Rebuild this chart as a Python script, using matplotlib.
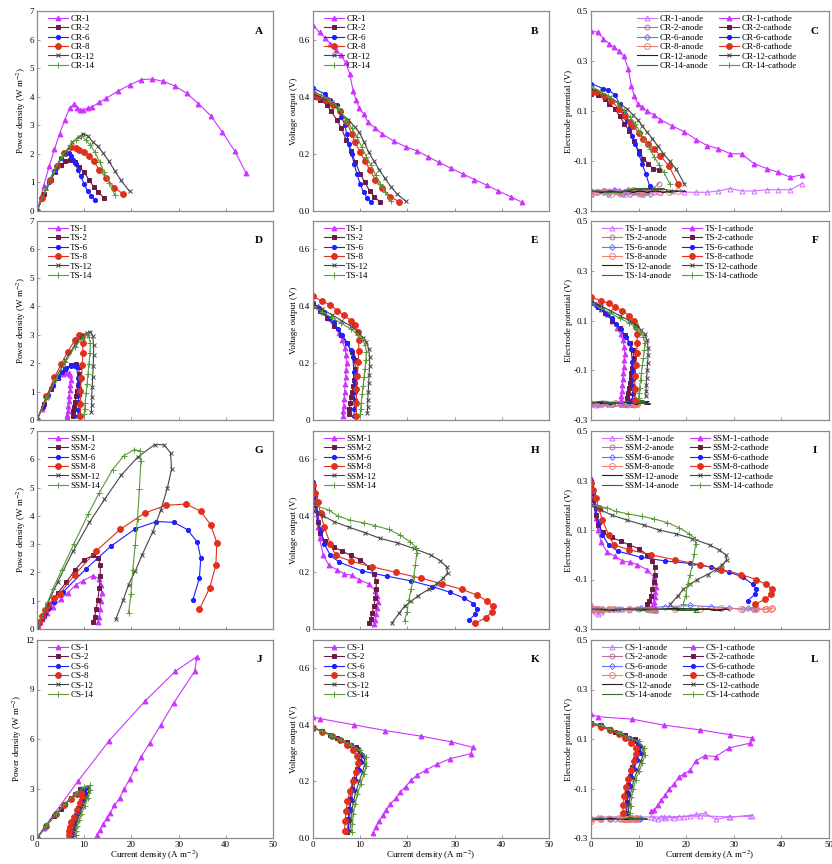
import matplotlib.pyplot as plt

plt.rcParams['font.family'] = ['Liberation Serif', 'DejaVu Serif']
plt.rcParams['mathtext.fontset'] = 'stix'

# ---- CR series: current (A m-2), power (W m-2), voltage (V), cathode / anode potential (V)
cr1_i = [0, 1.4, 2.6, 3.7, 4.8, 5.9, 6.9, 7.8, 8.5, 9.1, 9.8, 10.7, 11.7, 13.2, 14.6, 17.1, 19.6, 22.1, 24.4, 26.7, 29.2, 31.7, 34.2, 36.9, 39.3, 41.9, 44.3]
cr1_p = [0, 0.88, 1.57, 2.16, 2.71, 3.2, 3.6, 3.74, 3.62, 3.55, 3.53, 3.6, 3.65, 3.8, 3.94, 4.19, 4.41, 4.6, 4.62, 4.54, 4.38, 4.12, 3.76, 3.32, 2.75, 2.1, 1.33]
cr1_v = [0.65, 0.625, 0.605, 0.585, 0.565, 0.545, 0.52, 0.48, 0.42, 0.39, 0.36, 0.34, 0.31, 0.29, 0.27, 0.245, 0.225, 0.21, 0.19, 0.17, 0.15, 0.13, 0.11, 0.09, 0.07, 0.05, 0.03]
cr1_c = [0.42, 0.415, 0.39, 0.37, 0.356, 0.34, 0.32, 0.27, 0.2, 0.16, 0.13, 0.115, 0.1, 0.085, 0.065, 0.04, 0.017, -0.014, -0.038, -0.05, -0.07, -0.072, -0.11, -0.13, -0.145, -0.165, -0.155]
cr1_a = [-0.23, -0.22, -0.215, -0.225, -0.21, -0.215, -0.22, -0.21, -0.22, -0.225, -0.22, -0.225, -0.22, -0.225, -0.225, -0.22, -0.225, -0.225, -0.225, -0.22, -0.21, -0.22, -0.22, -0.215, -0.215, -0.215, -0.19]

cr2_i = [0, 1.5, 3, 3.8, 5, 6, 7, 8, 9, 10, 11, 12, 13, 14.3]
cr2_p = [0, 0.6, 1.1, 1.35, 1.6, 1.75, 1.8, 1.7, 1.55, 1.35, 1.1, 0.85, 0.65, 0.45]
cr2_v = [0.4, 0.39, 0.37, 0.35, 0.32, 0.29, 0.25, 0.21, 0.17, 0.13, 0.1, 0.07, 0.05, 0.03]
cr2_c = [0.17, 0.165, 0.15, 0.13, 0.11, 0.08, 0.05, 0.02, -0.02, -0.06, -0.09, -0.11, -0.13, -0.135]
cr2_a = [-0.23, -0.225, -0.22, -0.22, -0.225, -0.23, -0.225, -0.22, -0.225, -0.23, -0.225, -0.22, -0.21, -0.19]

cr6_i = [0, 2.5, 3.6, 5, 6, 6.8, 7.1, 7.6, 8.2, 8.7, 9.3, 10, 10.7, 11.5, 12.3]
cr6_p = [0, 1.03, 1.4, 1.85, 1.98, 2.04, 1.92, 1.79, 1.64, 1.44, 1.21, 0.94, 0.7, 0.54, 0.37]
cr6_v = [0.43, 0.41, 0.39, 0.37, 0.33, 0.3, 0.27, 0.235, 0.2, 0.165, 0.13, 0.094, 0.065, 0.047, 0.03]
cr6_c = [0.21, 0.19, 0.185, 0.165, 0.13, 0.1, 0.09, 0.06, 0.035, 0.0, -0.03, -0.07, -0.11, -0.15, -0.2]
cr6_a = [-0.22, -0.225, -0.23, -0.22, -0.225, -0.23, -0.225, -0.22, -0.23, -0.225, -0.22, -0.225, -0.23, -0.225, -0.23]

cr8_i = [0, 1.1, 2.8, 4.3, 5.8, 7.2, 8.2, 8.9, 10, 11, 12, 13.2, 14.6, 16.4, 18.2]
cr8_p = [0, 0.44, 1.08, 1.59, 2.03, 2.23, 2.21, 2.14, 2.05, 1.93, 1.74, 1.45, 1.17, 0.82, 0.6]
cr8_v = [0.41, 0.4, 0.387, 0.37, 0.35, 0.31, 0.27, 0.24, 0.205, 0.175, 0.145, 0.11, 0.08, 0.05, 0.033]
cr8_c = [0.18, 0.175, 0.16, 0.14, 0.11, 0.08, 0.055, 0.04, 0.013, -0.01, -0.03, -0.05, -0.08, -0.12, -0.19]
cr8_a = [-0.23, -0.225, -0.22, -0.23, -0.225, -0.23, -0.22, -0.215, -0.225, -0.23, -0.225, -0.22, -0.225, -0.225, -0.22]

cr12_i = [0, 2, 4, 6, 7.5, 8.8, 9.8, 10.8, 11.8, 12.9, 14, 15.2, 16.5, 17.8, 19.6]
cr12_p = [0, 0.79, 1.52, 2.04, 2.4, 2.6, 2.7, 2.62, 2.42, 2.26, 2.03, 1.75, 1.4, 1.07, 0.69]
cr12_v = [0.41, 0.395, 0.38, 0.34, 0.32, 0.295, 0.275, 0.243, 0.205, 0.175, 0.145, 0.115, 0.085, 0.06, 0.035]
cr12_c = [0.19, 0.175, 0.155, 0.13, 0.11, 0.085, 0.065, 0.04, 0.015, -0.01, -0.04, -0.07, -0.1, -0.13, -0.19]
cr12_a = [-0.22, -0.225, -0.22, -0.225, -0.22, -0.225, -0.22, -0.22, -0.225, -0.22, -0.22, -0.225, -0.22, -0.22, -0.22]

cr14_i = [0, 1.8, 3.6, 5.4, 7, 8.2, 9.3, 10.3, 11.3, 12.3, 13.3, 14.3, 15.3, 16.5]
cr14_p = [0, 0.73, 1.39, 1.94, 2.3, 2.5, 2.63, 2.5, 2.3, 2.05, 1.7, 1.35, 0.98, 0.56]
cr14_v = [0.42, 0.405, 0.385, 0.36, 0.32, 0.29, 0.26, 0.225, 0.19, 0.16, 0.125, 0.095, 0.065, 0.035]
cr14_c = [0.2, 0.18, 0.16, 0.135, 0.1, 0.075, 0.05, 0.015, -0.02, -0.05, -0.085, -0.115, -0.145, -0.19]
cr14_a = [-0.22, -0.22, -0.225, -0.225, -0.22, -0.215, -0.21, -0.21, -0.21, -0.21, -0.21, -0.21, -0.21, -0.225]

# ---- TS series
ts1_i = [0, 1, 2.2, 3.4, 4.5, 5.5, 6.2, 6.7, 7.0, 7.1, 7.0, 6.9, 6.8, 6.7, 6.6, 6.5, 6.4, 6.3]
ts1_p = [0, 0.4, 0.84, 1.22, 1.5, 1.62, 1.66, 1.64, 1.58, 1.42, 1.23, 1.04, 0.85, 0.67, 0.5, 0.33, 0.19, 0.1]
ts1_v = [0.41, 0.4, 0.38, 0.36, 0.335, 0.305, 0.28, 0.255, 0.23, 0.2, 0.175, 0.15, 0.125, 0.1, 0.075, 0.05, 0.03, 0.015]
ts1_c = [0.175, 0.165, 0.145, 0.125, 0.1, 0.07, 0.045, 0.02, -0.005, -0.035, -0.06, -0.085, -0.11, -0.135, -0.16, -0.185, -0.205, -0.22]
ts1_a = [-0.235, -0.24, -0.235, -0.23, -0.235, -0.23, -0.235, -0.235, -0.235, -0.235, -0.235, -0.235, -0.235, -0.235, -0.235, -0.235, -0.235, -0.235]

ts2_i = [0, 1.5, 3, 4.5, 6, 7.2, 8.2, 8.8, 9.0, 8.9, 8.7, 8.5, 8.3, 8.1, 7.9, 7.7, 7.6]
ts2_p = [0, 0.58, 1.08, 1.49, 1.8, 1.94, 1.97, 1.85, 1.62, 1.42, 1.22, 1.02, 0.83, 0.65, 0.47, 0.31, 0.15]
ts2_v = [0.4, 0.385, 0.36, 0.33, 0.3, 0.27, 0.24, 0.21, 0.18, 0.16, 0.14, 0.12, 0.1, 0.08, 0.06, 0.04, 0.02]
ts2_c = [0.17, 0.155, 0.13, 0.1, 0.07, 0.04, 0.01, -0.02, -0.05, -0.07, -0.09, -0.11, -0.13, -0.15, -0.17, -0.19, -0.21]
ts2_a = [-0.23, -0.235, -0.23, -0.235, -0.23, -0.235, -0.23, -0.235, -0.24, -0.235, -0.23, -0.235, -0.23, -0.235, -0.23, -0.235, -0.24]

ts6_i = [0, 1.2, 2.3, 3.4, 4.4, 5.3, 6.2, 7.3, 8.0, 8.4, 8.7, 8.8, 8.85, 8.8, 8.75, 8.7]
ts6_p = [0, 0.47, 0.87, 1.22, 1.51, 1.7, 1.84, 1.9, 1.9, 1.85, 1.48, 1.14, 0.89, 0.62, 0.35, 0.13]
ts6_v = [0.41, 0.395, 0.38, 0.36, 0.344, 0.32, 0.3, 0.27, 0.245, 0.22, 0.17, 0.13, 0.1, 0.07, 0.04, 0.015]
ts6_c = [0.175, 0.16, 0.145, 0.125, 0.11, 0.085, 0.065, 0.035, 0.01, -0.015, -0.065, -0.105, -0.135, -0.165, -0.195, -0.22]
ts6_a = [-0.235, -0.235, -0.23, -0.235, -0.235, -0.23, -0.235, -0.235, -0.23, -0.235, -0.235, -0.23, -0.235, -0.235, -0.23, -0.235]

ts8_i = [0, 2, 3.7, 5.1, 6.5, 8, 9, 9.5, 9.7, 9.7, 9.6, 9.4, 9.2, 9.2, 9.2]
ts8_p = [0, 0.83, 1.5, 1.96, 2.4, 2.8, 3.0, 2.95, 2.72, 2.37, 1.95, 1.47, 1.01, 0.55, 0.13]
ts8_v = [0.435, 0.417, 0.405, 0.385, 0.37, 0.35, 0.333, 0.31, 0.28, 0.244, 0.203, 0.156, 0.11, 0.06, 0.014]
ts8_c = [0.195, 0.18, 0.17, 0.155, 0.14, 0.12, 0.1, 0.075, 0.045, 0.01, -0.03, -0.08, -0.125, -0.175, -0.22]
ts8_a = [-0.235, -0.235, -0.235, -0.23, -0.235, -0.23, -0.235, -0.235, -0.235, -0.235, -0.23, -0.235, -0.235, -0.235, -0.235]

ts12_i = [0, 2, 4, 6, 8, 9.5, 10.6, 11.3, 11.8, 12, 12, 11.9, 11.8, 11.7, 11.6, 11.6, 11.5]
ts12_p = [0, 0.78, 1.48, 2.1, 2.64, 2.95, 3.07, 3.11, 2.95, 2.64, 2.28, 1.9, 1.53, 1.17, 0.81, 0.52, 0.29]
ts12_v = [0.41, 0.39, 0.37, 0.35, 0.33, 0.31, 0.29, 0.275, 0.25, 0.22, 0.19, 0.16, 0.13, 0.1, 0.07, 0.045, 0.025]
ts12_c = [0.18, 0.16, 0.14, 0.12, 0.1, 0.08, 0.06, 0.045, 0.02, -0.01, -0.04, -0.07, -0.1, -0.13, -0.16, -0.185, -0.205]
ts12_a = [-0.23, -0.23, -0.235, -0.23, -0.23, -0.235, -0.23, -0.23, -0.23, -0.235, -0.23, -0.23, -0.225, -0.23, -0.23, -0.235, -0.23]

ts14_i = [0, 2, 4, 6, 8, 9.5, 10.5, 11, 11.3, 11.2, 11, 10.8, 10.6, 10.4, 10.2, 10.1, 10]
ts14_p = [0, 0.76, 1.44, 2.04, 2.56, 2.85, 2.99, 2.92, 2.71, 2.35, 1.98, 1.62, 1.27, 0.94, 0.61, 0.4, 0.2]
ts14_v = [0.4, 0.38, 0.36, 0.34, 0.32, 0.3, 0.285, 0.265, 0.24, 0.21, 0.18, 0.15, 0.12, 0.09, 0.06, 0.04, 0.02]
ts14_c = [0.17, 0.15, 0.13, 0.11, 0.09, 0.07, 0.055, 0.035, 0.01, -0.02, -0.05, -0.08, -0.11, -0.14, -0.17, -0.19, -0.21]
ts14_a = [-0.23, -0.225, -0.23, -0.23, -0.225, -0.23, -0.23, -0.225, -0.23, -0.23, -0.225, -0.23, -0.23, -0.22, -0.225, -0.23, -0.23]

# ---- SSM series
ssm1_i = [0, 0.3, 0.6, 1.0, 1.4, 2.2, 3.4, 5.0, 6.6, 8.2, 9.7, 11.8, 13.2, 13.5, 13.7, 13.5, 13.4, 13.2, 13.0]
ssm1_p = [0, 0.14, 0.25, 0.36, 0.45, 0.57, 0.77, 1.05, 1.29, 1.56, 1.7, 1.89, 1.78, 1.55, 1.29, 0.99, 0.7, 0.41, 0.23]
ssm1_v = [0.51, 0.47, 0.42, 0.36, 0.32, 0.26, 0.225, 0.21, 0.195, 0.19, 0.175, 0.16, 0.135, 0.115, 0.094, 0.073, 0.052, 0.031, 0.018]
ssm1_c = [0.31, 0.26, 0.21, 0.15, 0.1, 0.05, 0.01, -0.005, -0.025, -0.03, -0.04, -0.06, -0.09, -0.11, -0.13, -0.15, -0.17, -0.19, -0.2]
ssm1_a = [-0.2, -0.21, -0.22, -0.23, -0.24, -0.23, -0.22, -0.22, -0.22, -0.215, -0.215, -0.22, -0.225, -0.225, -0.225, -0.225, -0.22, -0.22, -0.22]

ssm2_i = [0, 0.5, 1.0, 1.5, 2.5, 4.4, 6.2, 8.0, 10.0, 11.8, 12.9, 13.4, 13.4, 13.2, 12.9, 12.5, 12.2, 11.8]
ssm2_p = [0, 0.22, 0.38, 0.51, 0.78, 1.28, 1.65, 2.08, 2.45, 2.6, 2.52, 2.28, 1.88, 1.45, 1.03, 0.69, 0.43, 0.24]
ssm2_v = [0.5, 0.44, 0.38, 0.34, 0.31, 0.29, 0.275, 0.26, 0.245, 0.22, 0.195, 0.17, 0.14, 0.11, 0.08, 0.055, 0.035, 0.02]
ssm2_c = [0.28, 0.22, 0.16, 0.12, 0.09, 0.07, 0.055, 0.04, 0.025, 0.0, -0.025, -0.05, -0.08, -0.11, -0.14, -0.165, -0.185, -0.2]
ssm2_a = [-0.22, -0.225, -0.22, -0.22, -0.225, -0.22, -0.22, -0.225, -0.22, -0.22, -0.225, -0.22, -0.22, -0.225, -0.22, -0.22, -0.225, -0.22]

ssm6_i = [0, 0.5, 1.0, 1.6, 2.4, 3.7, 5.6, 10.4, 15.6, 20.8, 25.3, 29.0, 31.9, 34.0, 34.7, 34.4, 33.0]
ssm6_p = [0, 0.24, 0.41, 0.56, 0.72, 0.96, 1.32, 2.13, 2.92, 3.54, 3.8, 3.77, 3.51, 3.06, 2.5, 1.79, 1.02]
ssm6_v = [0.52, 0.47, 0.41, 0.35, 0.3, 0.26, 0.236, 0.205, 0.187, 0.17, 0.15, 0.13, 0.11, 0.09, 0.072, 0.052, 0.031]
ssm6_c = [0.3, 0.25, 0.19, 0.13, 0.08, 0.04, 0.015, -0.01, -0.025, -0.035, -0.05, -0.07, -0.09, -0.12, -0.14, -0.16, -0.185]
ssm6_a = [-0.22, -0.225, -0.22, -0.22, -0.225, -0.22, -0.22, -0.215, -0.21, -0.205, -0.21, -0.215, -0.22, -0.22, -0.215, -0.215, -0.215]

ssm8_i = [0, 0.5, 1.0, 1.6, 2.4, 3.7, 4.8, 8.0, 12.5, 17.6, 22.8, 27.3, 31.6, 34.7, 36.8, 38.1, 37.9, 36.6, 34.4]
ssm8_p = [0, 0.24, 0.45, 0.66, 0.86, 1.11, 1.25, 1.92, 2.75, 3.52, 4.1, 4.37, 4.42, 4.16, 3.68, 3.05, 2.27, 1.46, 0.69]
ssm8_v = [0.51, 0.48, 0.45, 0.41, 0.36, 0.3, 0.26, 0.24, 0.22, 0.2, 0.18, 0.16, 0.14, 0.12, 0.1, 0.08, 0.06, 0.04, 0.02]
ssm8_c = [0.29, 0.26, 0.23, 0.19, 0.14, 0.08, 0.04, 0.02, 0.0, -0.02, -0.04, -0.06, -0.08, -0.1, -0.12, -0.14, -0.16, -0.18, -0.2]
ssm8_a = [-0.22, -0.22, -0.22, -0.225, -0.22, -0.22, -0.22, -0.22, -0.22, -0.22, -0.22, -0.215, -0.22, -0.22, -0.22, -0.215, -0.22, -0.22, -0.22]

ssm12_i = [0, 2.2, 4.4, 7.6, 11.1, 14.3, 17.8, 21.3, 24.9, 26.9, 28.3, 28.5, 27.6, 26.2, 24.5, 22.3, 20.8, 19.4, 18.3, 16.7]
ssm12_p = [0, 0.88, 1.67, 2.74, 3.77, 4.58, 5.43, 6.07, 6.52, 6.51, 6.23, 5.64, 4.97, 4.19, 3.43, 2.63, 2.04, 1.57, 1.04, 0.35]
ssm12_v = [0.42, 0.4, 0.38, 0.36, 0.34, 0.32, 0.305, 0.285, 0.262, 0.242, 0.22, 0.198, 0.18, 0.16, 0.14, 0.118, 0.098, 0.081, 0.057, 0.021]
ssm12_c = [0.2, 0.18, 0.16, 0.14, 0.12, 0.1, 0.085, 0.065, 0.04, 0.02, 0.0, -0.02, -0.04, -0.06, -0.08, -0.1, -0.12, -0.14, -0.165, -0.2]
ssm12_a = [-0.22, -0.22, -0.225, -0.22, -0.22, -0.22, -0.215, -0.22, -0.22, -0.225, -0.22, -0.22, -0.22, -0.225, -0.22, -0.22, -0.22, -0.225, -0.22, -0.22]

ssm14_i = [0, 3.4, 5.2, 7.8, 10.8, 13.2, 16.0, 18.4, 20.6, 21.9, 22.0, 21.7, 21.3, 20.8, 20.3, 19.9, 19.4]
ssm14_p = [0, 1.43, 2.08, 3.0, 4.05, 4.82, 5.63, 6.13, 6.34, 6.3, 5.94, 4.95, 3.9, 2.97, 2.1, 1.22, 0.58]
ssm14_v = [0.44, 0.42, 0.4, 0.385, 0.375, 0.365, 0.352, 0.333, 0.308, 0.288, 0.27, 0.228, 0.183, 0.143, 0.103, 0.061, 0.03]
ssm14_c = [0.2, 0.19, 0.175, 0.165, 0.155, 0.145, 0.13, 0.11, 0.085, 0.065, 0.045, 0.005, -0.04, -0.08, -0.12, -0.165, -0.2]
ssm14_a = [-0.22, -0.225, -0.22, -0.22, -0.225, -0.22, -0.22, -0.225, -0.22, -0.225, -0.23, -0.225, -0.22, -0.225, -0.22, -0.225, -0.22]

# ---- CS series
cs1_i = [0, 1.5, 8.7, 15.3, 22.9, 29.3, 33.9, 33.4, 29.0, 26.2, 23.9, 22.0, 20.8, 19.6, 18.5, 17.5, 16.4, 15.5, 14.8, 14.0, 13.3, 12.7]
cs1_p = [0, 0.63, 3.45, 5.9, 8.3, 10.1, 11.0, 10.1, 8.2, 6.84, 5.77, 4.89, 4.23, 3.55, 3.0, 2.42, 1.97, 1.54, 1.19, 0.82, 0.47, 0.2]
cs1_v = [0.428, 0.422, 0.4, 0.38, 0.36, 0.34, 0.32, 0.298, 0.28, 0.26, 0.24, 0.222, 0.204, 0.182, 0.162, 0.14, 0.12, 0.1, 0.08, 0.06, 0.04, 0.018]
cs1_c = [0.2, 0.19, 0.18, 0.156, 0.137, 0.117, 0.104, 0.083, 0.064, 0.029, 0.033, 0.011, -0.027, -0.04, -0.053, -0.08, -0.104, -0.128, -0.146, -0.167, -0.186, -0.19]
cs1_a = [-0.22, -0.215, -0.215, -0.215, -0.21, -0.215, -0.21, -0.21, -0.215, -0.225, -0.2, -0.205, -0.21, -0.215, -0.215, -0.22, -0.215, -0.22, -0.215, -0.225, -0.22, -0.215]

cs2_i = [0, 1.9, 3.7, 5.0, 7.1, 9.2, 9.9, 9.8, 9.3, 8.6, 8.2, 7.8, 7.6, 7.5, 7.3]
cs2_p = [0, 0.72, 1.35, 1.78, 2.4, 2.94, 2.93, 2.68, 2.27, 1.79, 1.42, 1.08, 0.78, 0.5, 0.15]
cs2_v = [0.39, 0.379, 0.364, 0.355, 0.338, 0.32, 0.296, 0.273, 0.244, 0.208, 0.173, 0.138, 0.102, 0.067, 0.02]
cs2_c = [0.165, 0.155, 0.14, 0.13, 0.115, 0.1, 0.075, 0.05, 0.02, -0.015, -0.05, -0.085, -0.12, -0.155, -0.2]
cs2_a = [-0.225, -0.225, -0.22, -0.225, -0.22, -0.225, -0.225, -0.22, -0.225, -0.22, -0.225, -0.225, -0.22, -0.225, -0.22]

cs6_i = [0, 2, 4, 6, 8, 9.5, 10.3, 10.2, 9.7, 9.0, 8.5, 8.1, 7.8, 7.6, 7.5]
cs6_p = [0, 0.76, 1.45, 2.07, 2.64, 2.99, 3.04, 2.75, 2.33, 1.85, 1.45, 1.09, 0.78, 0.49, 0.19]
cs6_v = [0.39, 0.378, 0.362, 0.345, 0.33, 0.315, 0.295, 0.27, 0.24, 0.205, 0.17, 0.135, 0.1, 0.065, 0.025]
cs6_c = [0.165, 0.155, 0.14, 0.12, 0.105, 0.09, 0.07, 0.045, 0.015, -0.02, -0.055, -0.09, -0.125, -0.16, -0.2]
cs6_a = [-0.225, -0.22, -0.225, -0.225, -0.22, -0.225, -0.225, -0.22, -0.225, -0.225, -0.22, -0.225, -0.225, -0.22, -0.225]

cs8_i = [0, 2, 4, 5.8, 7.2, 8.5, 9.4, 9.5, 9.1, 8.4, 7.8, 7.3, 7.0, 6.8, 6.7]
cs8_p = [0, 0.75, 1.44, 2.0, 2.38, 2.64, 2.73, 2.52, 2.14, 1.68, 1.29, 0.95, 0.67, 0.41, 0.17]
cs8_v = [0.39, 0.375, 0.36, 0.345, 0.33, 0.31, 0.29, 0.265, 0.235, 0.2, 0.165, 0.13, 0.095, 0.06, 0.025]
cs8_c = [0.16, 0.15, 0.135, 0.12, 0.105, 0.085, 0.065, 0.04, 0.01, -0.025, -0.06, -0.095, -0.13, -0.165, -0.2]
cs8_a = [-0.23, -0.225, -0.225, -0.22, -0.225, -0.225, -0.22, -0.225, -0.225, -0.22, -0.225, -0.225, -0.225, -0.22, -0.225]

cs12_i = [0, 2, 4, 6, 8, 9.8, 10.9, 11.0, 10.5, 9.8, 9.1, 8.6, 8.2, 8.0, 7.8]
cs12_p = [0, 0.75, 1.45, 2.08, 2.64, 3.04, 3.11, 2.86, 2.47, 1.96, 1.5, 1.12, 0.78, 0.48, 0.2]
cs12_v = [0.39, 0.377, 0.362, 0.346, 0.33, 0.31, 0.285, 0.26, 0.235, 0.2, 0.165, 0.13, 0.095, 0.06, 0.025]
cs12_c = [0.165, 0.155, 0.14, 0.125, 0.105, 0.09, 0.065, 0.04, 0.01, -0.025, -0.06, -0.095, -0.13, -0.165, -0.2]
cs12_a = [-0.225, -0.225, -0.22, -0.225, -0.225, -0.22, -0.225, -0.225, -0.22, -0.225, -0.225, -0.22, -0.225, -0.225, -0.22]

cs14_i = [0, 2, 4, 6, 8, 10, 11.2, 11.3, 10.8, 10.1, 9.4, 8.9, 8.5, 8.3, 8.2]
cs14_p = [0, 0.75, 1.45, 2.08, 2.64, 3.1, 3.19, 2.88, 2.43, 1.92, 1.46, 1.07, 0.72, 0.42, 0.16]
cs14_v = [0.39, 0.377, 0.362, 0.346, 0.33, 0.31, 0.285, 0.255, 0.225, 0.19, 0.155, 0.12, 0.085, 0.05, 0.02]
cs14_c = [0.165, 0.155, 0.14, 0.125, 0.105, 0.09, 0.065, 0.035, 0.005, -0.03, -0.065, -0.1, -0.135, -0.17, -0.2]
cs14_a = [-0.225, -0.22, -0.225, -0.225, -0.22, -0.225, -0.22, -0.225, -0.225, -0.22, -0.225, -0.22, -0.225, -0.22, -0.215]

groups = ['CR', 'TS', 'SSM', 'CS']
suffixes = ['1', '2', '6', '8', '12', '14']
panel_letters = ['A', 'B', 'C', 'D', 'E', 'F', 'G', 'H', 'I', 'J', 'K', 'L']
series = {
    'CR': [(cr1_i, cr1_p, cr1_v, cr1_c, cr1_a), (cr2_i, cr2_p, cr2_v, cr2_c, cr2_a),
           (cr6_i, cr6_p, cr6_v, cr6_c, cr6_a), (cr8_i, cr8_p, cr8_v, cr8_c, cr8_a),
           (cr12_i, cr12_p, cr12_v, cr12_c, cr12_a), (cr14_i, cr14_p, cr14_v, cr14_c, cr14_a)],
    'TS': [(ts1_i, ts1_p, ts1_v, ts1_c, ts1_a), (ts2_i, ts2_p, ts2_v, ts2_c, ts2_a),
           (ts6_i, ts6_p, ts6_v, ts6_c, ts6_a), (ts8_i, ts8_p, ts8_v, ts8_c, ts8_a),
           (ts12_i, ts12_p, ts12_v, ts12_c, ts12_a), (ts14_i, ts14_p, ts14_v, ts14_c, ts14_a)],
    'SSM': [(ssm1_i, ssm1_p, ssm1_v, ssm1_c, ssm1_a), (ssm2_i, ssm2_p, ssm2_v, ssm2_c, ssm2_a),
            (ssm6_i, ssm6_p, ssm6_v, ssm6_c, ssm6_a), (ssm8_i, ssm8_p, ssm8_v, ssm8_c, ssm8_a),
            (ssm12_i, ssm12_p, ssm12_v, ssm12_c, ssm12_a), (ssm14_i, ssm14_p, ssm14_v, ssm14_c, ssm14_a)],
    'CS': [(cs1_i, cs1_p, cs1_v, cs1_c, cs1_a), (cs2_i, cs2_p, cs2_v, cs2_c, cs2_a),
           (cs6_i, cs6_p, cs6_v, cs6_c, cs6_a), (cs8_i, cs8_p, cs8_v, cs8_c, cs8_a),
           (cs12_i, cs12_p, cs12_v, cs12_c, cs12_a), (cs14_i, cs14_p, cs14_v, cs14_c, cs14_a)],
}

# styles
colors = ['#CC33FF', '#6B1A45', '#1F1FFF', '#E0301E', '#444444', '#5A9A3A']
markers = ['^', 's', 'o', 'o', 'x', '+']
msizes = [3.5, 3.5, 3.0, 4.2, 3.5, 4.3]
an_colors = ['#D070FF', '#B07890', '#7070FF', '#F08070', '#222222', '#2F6E23']
an_markers = ['^', 'o', 'D', 'o', '_', '_']

W, H = 832, 864
cols = [(37, 273), (313, 549), (591, 829)]
rows = [(11, 211), (221, 420), (431, 629), (640, 838)]

fig = plt.figure(figsize=(W / 100, H / 100), dpi=100)

frame = '#8a8a8a'
for r, g in enumerate(groups):
    for c in range(3):
        l, rr = cols[c]
        t, b = rows[r]
        ax = fig.add_axes([l / W, 1 - b / H, (rr - l) / W, (b - t) / H])
        handles = []
        if c < 2:
            for k, s in enumerate(suffixes):
                d = series[g][k]
                y = d[1] if c == 0 else d[2]
                h, = ax.plot(d[0], y, color=colors[k], marker=markers[k], ms=msizes[k],
                             lw=0.8, mew=0.7, label=f'{g}-{s}')
                handles.append(h)
            ax.legend(handles=handles, loc='upper left', bbox_to_anchor=(0.03, 1.0),
                      fontsize=6.5, frameon=False, handlelength=2.2, labelspacing=0.12,
                      handletextpad=0.3, borderaxespad=0.2, borderpad=0.2)
        else:
            an_h, ca_h = [], []
            for k, s in enumerate(suffixes):
                d = series[g][k]
                h, = ax.plot(d[0], d[4], color=an_colors[k], marker=an_markers[k], ms=msizes[k],
                             lw=0.8, mew=0.7, mfc='none', label=f'{g}-{s}-anode')
                an_h.append(h)
            for k, s in enumerate(suffixes):
                d = series[g][k]
                h, = ax.plot(d[0], d[3], color=colors[k], marker=markers[k], ms=msizes[k],
                             lw=0.8, mew=0.7, label=f'{g}-{s}-cathode')
                ca_h.append(h)
            anchor = (0.18, 1.0) if g == 'CR' else (0.03, 1.0)
            ax.legend(handles=an_h + ca_h, ncol=2, loc='upper left', bbox_to_anchor=anchor,
                      fontsize=6.5, frameon=False, handlelength=2.2, labelspacing=0.12,
                      handletextpad=0.3, columnspacing=1.2, borderaxespad=0.2, borderpad=0.2)

        ax.set_xlim(0, 50)
        ax.set_xticks([0, 10, 20, 30, 40, 50])
        if c == 0:
            if g == 'CS':
                ax.set_ylim(0, 12)
                ax.set_yticks([0, 3, 6, 9, 12])
            else:
                ax.set_ylim(0, 7)
                ax.set_yticks(range(8))
            ax.set_ylabel('Power density (W m$^{-2}$)', fontsize=6.5, labelpad=1)
        elif c == 1:
            ax.set_ylim(0, 0.7)
            ax.set_yticks([0, 0.2, 0.4, 0.6])
            zero = '0.0' if g in ('CR', 'CS') else '0'
            ax.set_yticklabels([zero, '0.2', '0.4', '0.6'])
            ax.set_ylabel('Voltage output (V)', fontsize=6.5, labelpad=1)
        else:
            ax.set_ylim(-0.3, 0.5)
            ax.set_yticks([-0.3, -0.1, 0.1, 0.3, 0.5])
            ax.set_yticklabels(['-0.3', '-0.1', '0.1', '0.3', '0.5'])
            ax.set_ylabel('Electrode potential (V)', fontsize=6.5, labelpad=1)

        if r == 3:
            ax.set_xlabel('Current density (A m$^{-2}$)', fontsize=6.5, labelpad=0)
        else:
            ax.set_xticklabels([])

        for sp in ax.spines.values():
            sp.set_color(frame)
            sp.set_linewidth(0.9)
        ax.tick_params(direction='in', length=2.5, width=0.6, color=frame,
                       labelsize=6.5, pad=2)
        ax.text(0.94, 0.9, panel_letters[r * 3 + c], transform=ax.transAxes,
                fontsize=8, fontweight='bold', ha='center', va='center')

fig.savefig('out.png', dpi=100)
